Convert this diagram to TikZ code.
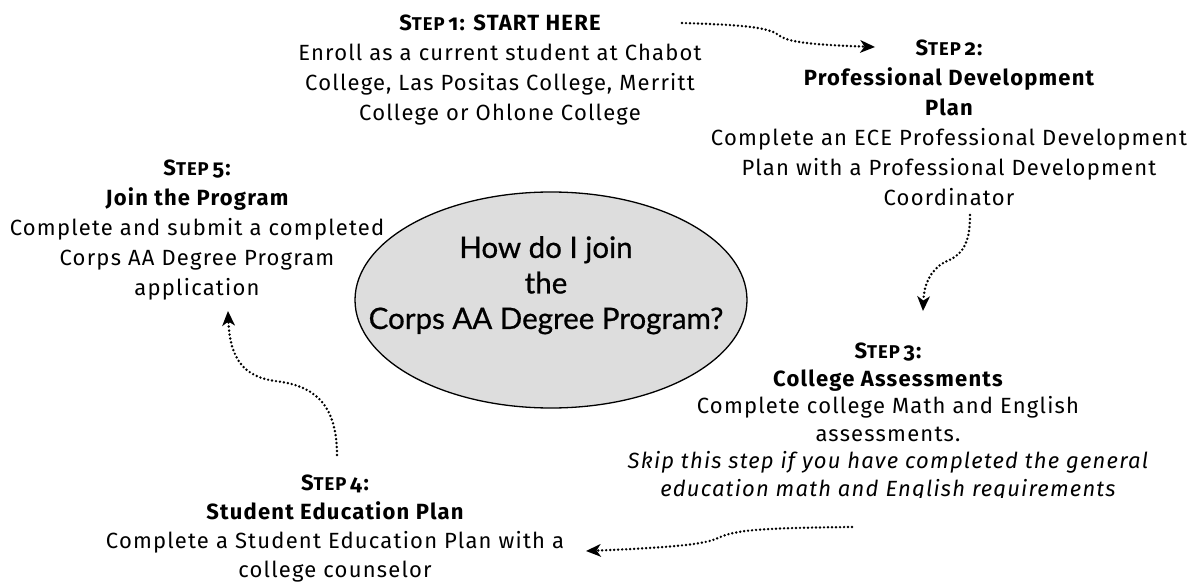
\documentclass[tikz,border=0pt]{standalone}
\usepackage{fontspec}
\setmainfont{Fira Sans}[Numbers=OldStyle, LetterSpace=5.5]
\newfontfamily\ellfont{Lato}[FakeBold=0.7]
\usetikzlibrary{arrows.meta,shapes.geometric}
\definecolor{ellfill}{HTML}{DDDDDD}
\newcommand\bodysize{\fontsize{22}{30}\selectfont}
\newcommand\stp[1]{S{\fontsize{18.5}{16}\selectfont TEP}\,#1}
\tikzset{
  stepnode/.style={align=center, inner sep=0pt, anchor=north, font=\bodysize},
  flowarrow/.style={line width=2.7pt, dash pattern=on 0pt off 4pt, line cap=round,
    -{Stealth[length=15pt,width=13pt,inset=4.5pt,round=false,line width=0pt]}},
}
\begin{document}
\begin{tikzpicture}[x=1pt,y=-1pt]
\useasboundingbox (0,0) rectangle (1200,583);
% central ellipse
\node[ellipse, draw, line width=1.3pt, fill=ellfill, minimum width=392pt, minimum height=216pt, inner sep=0pt] (hub) at (551,300) {};
\node[align=center, inner sep=0pt, anchor=north, font=\ellfont\fontsize{29.5}{35.5}\selectfont] (q) at (546,236) {How do I join\\the\\Corps AA Degree Program?};
% steps
\node[stepnode] (s1) at (500,15) {{\bfseries \stp{1}: START HERE}\\Enroll as a current student at Chabot\\College, Las Positas College, Merritt\\College or Ohlone College};
\node[stepnode] (s2) at (949,40) {{\bfseries \stp{2}:}\\{\bfseries Professional Development}\\{\bfseries Plan}\\Complete an ECE Professional Development\\Plan with a Professional Development\\Coordinator};
\begin{scope}
\clip (0,0) rectangle (1200,497);
\node[stepnode, font=\fontsize{22}{27.5}\selectfont] (s3) at (888,343) {{\bfseries \stp{3}:}\\{\bfseries College Assessments}\\Complete college Math and English\\assessments.\\\itshape Skip this step if you have completed the general\\\itshape education math and English requirements};
\end{scope}
\node[stepnode, font=\fontsize{22}{29}\selectfont] (s4) at (335,475) {{\bfseries \stp{4}:}\\{\bfseries Student Education Plan}\\Complete a Student Education Plan with a\\college counselor};
\node[stepnode] (s5) at (197,160) {{\bfseries \stp{5}:}\\{\bfseries Join the Program}\\Complete and submit a completed\\Corps AA Degree Program\\application};
% connector ends
\coordinate (a1s) at (682,23);  \coordinate (a1e) at (875,47);
\coordinate (a2s) at (970,215); \coordinate (a2e) at (923,311);
\coordinate (a3s) at (852,527); \coordinate (a3e) at (586,551);
\coordinate (a4s) at (337,455); \coordinate (a4e) at (228,311);
\draw[flowarrow] (a1s) .. controls (750,25) and (770,28) .. (780,36) .. controls (790,43) and (820,45) .. (a1e);
\draw[flowarrow] (a2s) .. controls (970,245) and (962,255) .. (945,262) .. controls (930,270) and (924,285) .. (a2e);
\draw[flowarrow] (a3s) .. controls (760,528) and (735,530) .. (718,538) .. controls (705,545) and (660,548) .. (a3e);
\draw[flowarrow] (a4s) .. controls (337,400) and (310,385) .. (275,381) .. controls (245,377) and (230,360) .. (a4e);
\end{tikzpicture}
\end{document}
